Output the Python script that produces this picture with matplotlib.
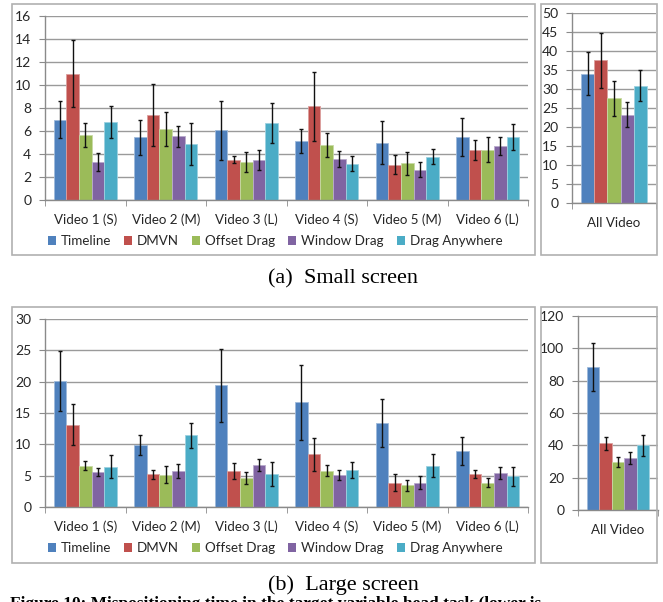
import numpy as np
import matplotlib
matplotlib.use("Agg")
import matplotlib.pyplot as plt
from matplotlib.patches import Rectangle, Patch

# ---------- data ----------
methods = ["Timeline", "DMVN", "Offset Drag", "Window Drag", "Drag Anywhere"]
colors = ["#4F81BD", "#C0504D", "#9BBB59", "#8064A2", "#4BACC6"]
videos = ["Video 1 (S)", "Video 2 (M)", "Video 3 (L)",
          "Video 4 (S)", "Video 5 (M)", "Video 6 (L)"]

# small screen, rows = methods, cols = videos
small_mean = [
    [7.0, 5.45, 6.05, 5.13, 5.0, 5.45],
    [11.0, 7.36, 3.52, 8.17, 3.08, 4.35],
    [5.63, 6.17, 3.3, 4.75, 3.2, 4.37],
    [3.3, 5.55, 3.48, 3.57, 2.62, 4.72],
    [6.8, 4.87, 6.72, 3.17, 3.78, 5.48],
]
small_err = [
    [1.65, 1.53, 2.56, 1.02, 1.83, 1.65],
    [2.9, 2.7, 0.34, 3.0, 0.84, 0.9],
    [1.06, 1.45, 0.88, 1.04, 1.0, 1.1],
    [0.77, 0.91, 0.84, 0.71, 0.66, 0.78],
    [1.38, 1.83, 1.74, 0.64, 0.65, 1.16],
]
small_all_mean = [34.0, 37.5, 27.5, 23.2, 30.9]
small_all_err = [5.65, 7.35, 4.6, 3.25, 4.1]

# large screen
large_mean = [
    [20.1, 9.88, 19.4, 16.7, 13.4, 8.92],
    [13.1, 5.23, 5.77, 8.38, 3.9, 5.23],
    [6.62, 5.18, 4.64, 5.82, 3.47, 3.9],
    [5.6, 5.77, 6.67, 5.07, 3.9, 5.45],
    [6.46, 11.43, 5.23, 5.87, 6.62, 4.91],
]
large_err = [
    [4.8, 1.65, 5.85, 5.95, 3.84, 2.24],
    [3.27, 0.7, 1.33, 2.56, 1.36, 0.64],
    [0.75, 1.39, 0.93, 0.93, 0.91, 0.7],
    [0.6, 1.07, 0.96, 0.78, 1.1, 1.01],
    [1.87, 2.0, 1.92, 1.28, 1.79, 1.52],
]
large_all_mean = [88.3, 41.2, 29.6, 32.1, 40.1]
large_all_err = [15.0, 4.2, 3.0, 3.8, 6.5]

# ---------- style ----------
W, H = 663, 602
FONT = "Lato"
GRID = "#9a9a9a"
AXC = "#8a8a8a"
TXT = "#262626"
BAR_W = 0.157


def lighten(c, f=0.45):
    rgb = np.array(matplotlib.colors.to_rgb(c))
    return tuple(rgb + (1 - rgb) * f)


def px_axes(fig, x0, x1, ytop, ybot):
    # pixel box -> figure axes
    return fig.add_axes([x0 / W, 1 - ybot / H, (x1 - x0) / W, (ybot - ytop) / H])


def style_axes(ax, ymax, ystep, ngroups, labels):
    ax.set_ylim(0, ymax)
    ax.set_xlim(-0.5, ngroups - 0.5)
    ax.set_yticks(np.arange(0, ymax + 0.1, ystep))
    ax.yaxis.grid(True, color=GRID, lw=1.0)
    ax.set_axisbelow(True)
    for s in ["top", "right"]:
        ax.spines[s].set_visible(False)
    for s in ["left", "bottom"]:
        ax.spines[s].set_color(AXC)
        ax.spines[s].set_linewidth(1.0)
    ax.set_xticks(np.arange(ngroups))
    ax.set_xticklabels(labels, fontfamily=FONT, fontsize=9.6, color=TXT)
    ax.set_xticks(np.arange(ngroups + 1) - 0.5, minor=True)
    ax.tick_params(axis="x", which="major", length=0, pad=10)
    ax.tick_params(axis="x", which="minor", length=4, color=AXC, direction="out")
    ax.tick_params(axis="y", length=4.3, color=AXC, pad=5.5, labelcolor=TXT)
    for t in ax.get_yticklabels():
        t.set_fontfamily(FONT)
        t.set_fontsize(10)


def draw_bars(ax, means, errs, ngroups, width):
    x = np.arange(ngroups)
    for i in range(len(methods)):
        ax.bar(x + (i - 2) * width, means[i], width, color=colors[i],
               edgecolor=lighten(colors[i]), linewidth=0.6,
               yerr=errs[i], capsize=1.6,
               error_kw=dict(ecolor="#111111", elinewidth=1.0, capthick=1.0))


fig = plt.figure(figsize=(W / 100, H / 100), dpi=100)
fig.patch.set_facecolor("white")

# frames
for ytop, ybot in [(4, 255), (307, 563)]:
    fig.add_artist(Rectangle((12 / W, 1 - ybot / H), (535 - 12) / W, (ybot - ytop) / H,
                             transform=fig.transFigure, fill=False,
                             edgecolor="#b0b0b0", lw=1.2))
    fig.add_artist(Rectangle((541 / W, 1 - ybot / H), (657 - 541) / W, (ybot - ytop) / H,
                             transform=fig.transFigure, fill=False,
                             edgecolor="#b0b0b0", lw=1.2))

# (a) small screen
ax1 = px_axes(fig, 45, 528, 16, 200)
draw_bars(ax1, small_mean, small_err, 6, BAR_W)
style_axes(ax1, 16, 2, 6, videos)

ax2 = px_axes(fig, 572, 656, 13, 203)
draw_bars(ax2, [[v] for v in small_all_mean], [[e] for e in small_all_err], 1, 0.155)
style_axes(ax2, 50, 5, 1, ["All Video"])

# (b) large screen
ax3 = px_axes(fig, 45, 528, 319, 507)
draw_bars(ax3, large_mean, large_err, 6, BAR_W)
style_axes(ax3, 30, 5, 6, videos)

ax4 = px_axes(fig, 578, 658, 316, 510)
draw_bars(ax4, [[v] for v in large_all_mean], [[e] for e in large_all_err], 1, 0.155)
style_axes(ax4, 120, 20, 1, ["All Video"])

# legends
handles = [Patch(facecolor=c, edgecolor="none") for c in colors]
for yl in [241, 548]:
    fig.legend(handles, methods, loc="center", bbox_to_anchor=(275 / W, 1 - yl / H),
               ncol=5, frameon=False, handlelength=0.6, handleheight=0.6,
               handletextpad=0.35, columnspacing=1.0,
               prop=dict(family=FONT, size=9.6), labelcolor=TXT)

# captions
fig.text(343 / W, 1 - 279 / H, "(a)  Small screen", ha="center", va="center",
         fontfamily="Liberation Serif", fontsize=16)
fig.text(343 / W, 1 - 585 / H, "(b)  Large screen", ha="center", va="center",
         fontfamily="Liberation Serif", fontsize=16)
fig.text(10 / W, 1 - 596 / H,
         "Figure 10: Mispositioning time in the target variable head task (lower is",
         ha="left", va="top", fontfamily="Liberation Serif", fontsize=12.5,
         fontweight="bold")

fig.savefig("out.png", dpi=100)
